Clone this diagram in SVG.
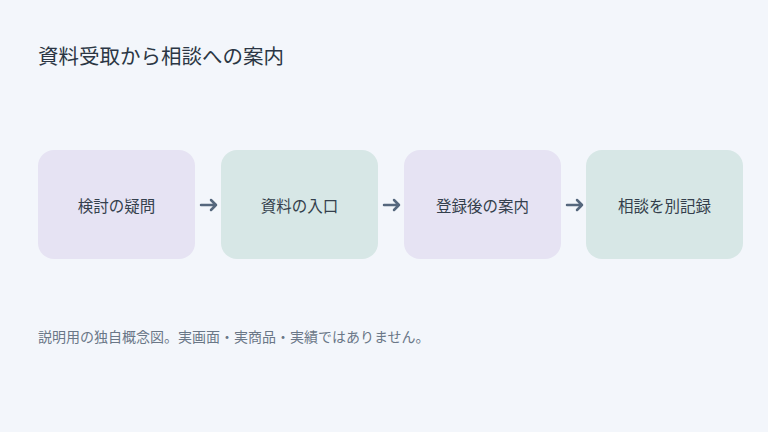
<svg xmlns="http://www.w3.org/2000/svg" width="768" height="432" viewBox="0 0 768 432">
<defs>
<style>
.bg{fill:#f3f6fb}
.p{fill:#e6e3f3}
.g{fill:#d7e7e6}
.t{font-family:"Noto Sans CJK JP","Noto Sans",sans-serif;font-size:15.5px;fill:#343f4c;text-anchor:middle;dominant-baseline:central}
.title{font-family:"Noto Sans CJK JP","Noto Sans",sans-serif;font-size:20.5px;fill:#2b3644}
.note{font-family:"Noto Sans CJK JP","Noto Sans",sans-serif;font-size:14px;fill:#6a7787}
.c{stroke:#55677d;stroke-width:2.5;fill:none;stroke-linecap:round;stroke-linejoin:round}
</style>
</defs>
<rect class="bg" width="768" height="432"/>
<text class="title" x="38" y="64">資料受取から相談への案内</text>
<g id="n1"><rect class="p" x="38" y="150" width="157" height="109" rx="16"/><text class="t" x="116.5" y="205">検討の疑問</text></g>
<g id="n2"><rect class="g" x="221" y="150" width="157" height="109" rx="16"/><text class="t" x="299.5" y="205">資料の入口</text></g>
<g id="n3"><rect class="p" x="404" y="150" width="157" height="109" rx="16"/><text class="t" x="482.5" y="205">登録後の案内</text></g>
<g id="n4"><rect class="g" x="586" y="150" width="157" height="109" rx="16"/><text class="t" x="664.5" y="205">相談を別記録</text></g>
<g id="connectors">
<path class="c" d="M201 205H216M211 200L216 205L211 210"/>
<path class="c" d="M384 205H399M394 200L399 205L394 210"/>
<path class="c" d="M567 205H582M577 200L582 205L577 210"/>
</g>
<text class="note" x="38" y="342">説明用の独自概念図。実画面・実商品・実績ではありません。</text>
</svg>
